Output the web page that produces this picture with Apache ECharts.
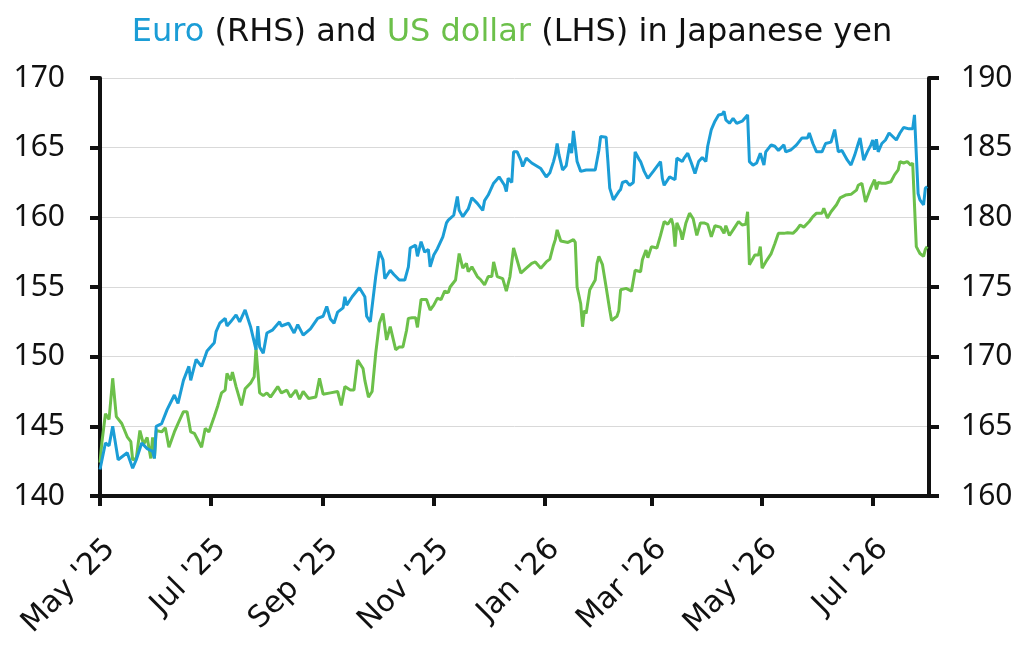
<!DOCTYPE html>
<html>
<head>
<meta charset="utf-8">
<script src="https://cdn.jsdelivr.net/npm/echarts@6/dist/echarts.min.js"></script>
<style>
html, body { margin: 0; padding: 0; background: #fff; }
#main { width: 1024px; height: 646px; }
</style>
</head>
<body>
<div id="main"></div>
<script>
// Euro in yen (right axis)
const euroDates = [
  '2025-05-01','2025-05-04','2025-05-06','2025-05-08','2025-05-11','2025-05-16','2025-05-19','2025-05-21','2025-05-24','2025-05-27',
  '2025-05-30','2025-05-31','2025-06-01','2025-06-04','2025-06-07','2025-06-11','2025-06-13','2025-06-16','2025-06-19','2025-06-20',
  '2025-06-23','2025-06-26','2025-06-29','2025-07-03','2025-07-04','2025-07-06','2025-07-09','2025-07-10','2025-07-12','2025-07-15',
  '2025-07-17','2025-07-20','2025-07-23','2025-07-26','2025-07-27','2025-07-28','2025-07-30','2025-08-01','2025-08-04','2025-08-08',
  '2025-08-09','2025-08-13','2025-08-16','2025-08-18','2025-08-21','2025-08-25','2025-08-29','2025-09-01','2025-09-03','2025-09-05',
  '2025-09-07','2025-09-09','2025-09-12','2025-09-13','2025-09-14','2025-09-17','2025-09-21','2025-09-24','2025-09-25','2025-09-27',
  '2025-09-30','2025-10-02','2025-10-04','2025-10-05','2025-10-08','2025-10-10','2025-10-13','2025-10-16','2025-10-18','2025-10-19',
  '2025-10-22','2025-10-23','2025-10-25','2025-10-27','2025-10-29','2025-10-30','2025-11-01','2025-11-03','2025-11-06','2025-11-08',
  '2025-11-09','2025-11-12','2025-11-14','2025-11-15','2025-11-17','2025-11-20','2025-11-22','2025-11-25','2025-11-28','2025-11-29',
  '2025-12-01','2025-12-04','2025-12-07','2025-12-10','2025-12-11','2025-12-12','2025-12-14','2025-12-15','2025-12-17','2025-12-19',
  '2025-12-20','2025-12-22','2025-12-25','2025-12-26','2025-12-30','2026-01-02','2026-01-04','2026-01-06','2026-01-07','2026-01-08',
  '2026-01-09','2026-01-11','2026-01-13','2026-01-15','2026-01-16','2026-01-17','2026-01-19','2026-01-21','2026-01-24','2026-01-29',
  '2026-01-31','2026-02-01','2026-02-04','2026-02-05','2026-02-06','2026-02-08','2026-02-11','2026-02-12','2026-02-13','2026-02-15',
  '2026-02-17','2026-02-19','2026-02-20','2026-02-22','2026-02-23','2026-02-25','2026-02-27','2026-03-02','2026-03-06','2026-03-07',
  '2026-03-08','2026-03-11','2026-03-14','2026-03-15','2026-03-18','2026-03-19','2026-03-21','2026-03-23','2026-03-25','2026-03-27',
  '2026-03-29','2026-03-31','2026-04-01','2026-04-03','2026-04-05','2026-04-07','2026-04-09','2026-04-10','2026-04-11','2026-04-13',
  '2026-04-15','2026-04-17','2026-04-20','2026-04-21','2026-04-23','2026-04-24','2026-04-26','2026-04-28','2026-04-29','2026-04-30',
  '2026-05-02','2026-05-03','2026-05-06','2026-05-08','2026-05-10','2026-05-13','2026-05-14','2026-05-17','2026-05-20','2026-05-23',
  '2026-05-26','2026-05-27','2026-05-29','2026-05-31','2026-06-03','2026-06-05','2026-06-08','2026-06-10','2026-06-12','2026-06-14',
  '2026-06-17','2026-06-19','2026-06-21','2026-06-23','2026-06-24','2026-06-26','2026-06-28','2026-06-30','2026-07-01','2026-07-02',
  '2026-07-03','2026-07-04','2026-07-06','2026-07-08','2026-07-10','2026-07-12','2026-07-14','2026-07-16','2026-07-18','2026-07-21',
  '2026-07-23','2026-07-24','2026-07-26','2026-07-27','2026-07-29','2026-07-30','2026-07-31'
];
const euroValues = [
  161.9,163.8,163.6,165.0,162.6,163.1,162.0,162.6,163.8,163.4,
  163.2,162.7,165.0,165.2,166.2,167.25,166.65,168.3,169.3,168.3,
  169.8,169.3,170.4,171.0,171.8,172.4,172.75,172.2,172.5,173.0,
  172.5,173.35,172.15,170.5,172.2,170.7,170.25,171.7,171.9,172.5,
  172.2,172.4,171.7,172.3,171.55,172.0,172.75,172.9,173.6,172.7,
  172.4,173.2,173.5,174.3,173.7,174.3,174.95,174.3,172.9,172.5,
  175.75,177.55,176.95,175.6,176.2,175.9,175.5,175.5,176.45,177.8,
  178.0,177.2,178.25,177.5,177.7,176.45,177.3,177.75,178.6,179.6,
  179.8,180.15,181.5,180.5,180.05,180.6,181.4,181.0,180.5,181.2,
  181.6,182.45,182.9,182.3,181.85,182.8,182.5,184.7,184.7,184.1,
  183.65,184.25,183.9,184.0,183.5,182.9,183.2,184.0,184.5,185.3,
  184.5,183.4,183.7,185.3,184.6,186.2,184.0,183.3,183.4,183.4,
  184.8,185.8,185.75,184.0,182.1,181.25,181.85,182.0,182.5,182.6,
  182.3,182.5,184.7,184.2,184.0,183.3,182.8,183.3,184.0,182.8,
  182.3,182.9,182.7,184.25,184.0,184.25,184.6,183.9,183.15,184.0,
  184.3,184.0,185.1,186.3,186.9,187.35,187.4,187.6,187.0,186.75,
  187.1,186.75,186.9,186.95,187.35,184.0,183.75,183.9,183.8,184.6,
  183.75,184.7,185.2,185.1,184.8,185.2,184.7,184.85,185.2,185.7,
  185.7,186.05,185.3,184.7,184.7,185.3,185.4,186.3,184.7,184.8,
  184.1,183.75,184.45,185.3,185.7,184.1,184.7,185.2,185.55,184.85,
  185.6,184.7,185.3,185.55,186.05,185.8,185.55,186.05,186.45,186.35,
  186.35,187.35,181.7,181.25,180.9,182.1,182.2
];

// US dollar in yen (left axis)
const usdDates = [
  '2025-05-01','2025-05-02','2025-05-04','2025-05-06','2025-05-08','2025-05-10','2025-05-13','2025-05-16','2025-05-18','2025-05-19',
  '2025-05-21','2025-05-23','2025-05-25','2025-05-27','2025-05-29','2025-05-30','2025-05-31','2025-06-01','2025-06-04','2025-06-06',
  '2025-06-08','2025-06-11','2025-06-13','2025-06-16','2025-06-18','2025-06-20','2025-06-22','2025-06-23','2025-06-26','2025-06-28',
  '2025-06-30','2025-07-03','2025-07-05','2025-07-07','2025-07-09','2025-07-10','2025-07-12','2025-07-13','2025-07-15','2025-07-18',
  '2025-07-20','2025-07-23','2025-07-25','2025-07-26','2025-07-28','2025-07-30','2025-08-01','2025-08-03','2025-08-07','2025-08-09',
  '2025-08-12','2025-08-14','2025-08-17','2025-08-19','2025-08-21','2025-08-24','2025-08-28','2025-08-30','2025-09-01','2025-09-05',
  '2025-09-09','2025-09-11','2025-09-13','2025-09-16','2025-09-18','2025-09-20','2025-09-23','2025-09-24','2025-09-26','2025-09-28',
  '2025-09-30','2025-10-02','2025-10-04','2025-10-06','2025-10-08','2025-10-11','2025-10-13','2025-10-15','2025-10-17','2025-10-18',
  '2025-10-20','2025-10-22','2025-10-23','2025-10-25','2025-10-28','2025-10-29','2025-10-30','2025-11-01','2025-11-03','2025-11-05',
  '2025-11-07','2025-11-09','2025-11-10','2025-11-13','2025-11-15','2025-11-17','2025-11-19','2025-11-20','2025-11-22','2025-11-25',
  '2025-11-27','2025-11-29','2025-12-01','2025-12-03','2025-12-04','2025-12-06','2025-12-09','2025-12-11','2025-12-13','2025-12-15',
  '2025-12-16','2025-12-19','2025-12-22','2025-12-25','2025-12-27','2025-12-30','2026-01-02','2026-01-04','2026-01-06','2026-01-07',
  '2026-01-08','2026-01-10','2026-01-14','2026-01-17','2026-01-18','2026-01-19','2026-01-21','2026-01-22','2026-01-23','2026-01-24',
  '2026-01-26','2026-01-29','2026-01-30','2026-01-31','2026-02-02','2026-02-04','2026-02-06','2026-02-07','2026-02-10','2026-02-11',
  '2026-02-12','2026-02-15','2026-02-18','2026-02-20','2026-02-23','2026-02-24','2026-02-26','2026-02-27','2026-03-01','2026-03-04',
  '2026-03-06','2026-03-08','2026-03-10','2026-03-12','2026-03-13','2026-03-14','2026-03-15','2026-03-17','2026-03-18','2026-03-20',
  '2026-03-22','2026-03-24','2026-03-26','2026-03-28','2026-03-30','2026-04-01','2026-04-03','2026-04-05','2026-04-08','2026-04-10',
  '2026-04-11','2026-04-13','2026-04-16','2026-04-18','2026-04-20','2026-04-21','2026-04-22','2026-04-23','2026-04-24','2026-04-27',
  '2026-04-29','2026-04-30','2026-05-01','2026-05-03','2026-05-06','2026-05-08','2026-05-10','2026-05-13','2026-05-15','2026-05-16',
  '2026-05-18','2026-05-20','2026-05-22','2026-05-24','2026-05-27','2026-05-29','2026-05-31','2026-06-03','2026-06-04','2026-06-06',
  '2026-06-08','2026-06-11','2026-06-13','2026-06-16','2026-06-19','2026-06-22','2026-06-23','2026-06-25','2026-06-27','2026-06-29',
  '2026-06-30','2026-07-02','2026-07-03','2026-07-04','2026-07-06','2026-07-08','2026-07-11','2026-07-13','2026-07-15','2026-07-16',
  '2026-07-18','2026-07-20','2026-07-22','2026-07-23','2026-07-24','2026-07-25','2026-07-26','2026-07-27','2026-07-29','2026-07-30',
  '2026-07-31'
];
const usdValues = [
  142.4,143.8,145.9,145.5,148.45,145.7,145.2,144.25,143.9,142.6,
  142.7,144.7,143.7,144.2,142.7,144.2,142.7,144.7,144.6,144.9,
  143.5,144.6,145.2,146.05,146.05,144.6,144.5,144.25,143.5,144.85,
  144.6,145.7,146.5,147.4,147.6,148.8,148.3,148.9,147.85,146.5,
  147.7,148.1,148.55,150.6,147.4,147.2,147.4,147.1,147.85,147.4,
  147.6,147.1,147.6,146.95,147.5,147.0,147.1,148.45,147.3,147.4,
  147.5,146.5,147.85,147.6,147.6,149.75,149.15,148.3,147.1,147.5,
  150.25,152.4,153.1,151.2,152.15,150.5,150.7,150.7,151.9,152.75,
  152.8,152.8,152.1,154.1,154.1,154.2,153.35,153.7,154.2,154.1,
  154.7,154.6,155.0,155.5,157.4,156.35,156.7,156.1,156.45,155.75,
  155.5,155.15,155.75,155.75,156.8,155.75,155.6,154.7,155.75,157.8,
  157.35,156.0,156.35,156.7,156.8,156.35,156.8,157.0,158.0,158.4,
  159.1,158.3,158.2,158.4,158.2,155.0,153.8,152.15,153.3,153.1,
  154.8,155.5,156.7,157.2,156.6,155.0,153.35,152.6,152.9,153.3,
  154.8,154.9,154.7,156.2,156.1,156.95,157.65,157.1,157.9,157.8,
  158.7,159.7,159.5,159.9,159.4,157.9,159.6,159.0,158.4,159.6,
  160.3,159.9,158.7,159.6,159.6,159.5,158.6,159.4,159.3,158.85,
  159.4,158.7,159.3,159.7,159.45,159.45,159.5,160.4,156.6,157.3,
  157.3,157.9,156.35,156.8,157.4,158.1,158.85,158.85,158.9,159.0,
  158.85,159.1,159.45,159.3,159.7,160.05,160.3,160.3,160.65,159.95,
  160.4,160.9,161.4,161.6,161.65,161.95,162.3,162.45,161.1,161.8,
  162.15,162.7,162.0,162.5,162.45,162.45,162.55,163.05,163.4,164.0,
  163.9,164.0,163.75,163.9,163.85,157.9,157.65,157.4,157.2,157.7,
  157.9
];

const tickDates = ['2025-05-01', '2025-07-01', '2025-09-01', '2025-11-01', '2026-01-01', '2026-03-01', '2026-05-01', '2026-07-01'];
const tickLabels = ["May '25", "Jul '25", "Sep '25", "Nov '25", "Jan '26", "Mar '26", "May '26", "Jul '26"];
const axisStart = '2025-05-01';
const axisEnd = '2026-08-01';

const BLUE = '#1b9dd6';
const GREEN = '#6cc04a';
const INK = '#111';
const FONT = '"Noto Sans", "DejaVu Sans", sans-serif';
const WIDE_FONT = '"DejaVu Sans", "Noto Sans", sans-serif';

// dates -> timestamps, x axis is a plain value axis in ms
const toTime = d => echarts.time.parse(d).getTime();
const tickTimes = tickDates.map(toTime);
const labelByTime = {};
tickTimes.forEach((t, i) => { labelByTime[t] = tickLabels[i]; });

const myChart = echarts.init(document.getElementById('main'));
const option = {
    animation: false,
    backgroundColor: '#fff',
    title: {
        text: '{b|Euro} (RHS) and {g|US dollar} (LHS) in Japanese yen',
        left: 'center',
        top: 12,
        textStyle: {
            fontFamily: WIDE_FONT,
            fontSize: 32,
            fontWeight: 'normal',
            color: INK,
            rich: {
                b: { color: BLUE, fontSize: 32, fontFamily: WIDE_FONT },
                g: { color: GREEN, fontSize: 32, fontFamily: WIDE_FONT }
            }
        }
    },
    grid: { left: 100, right: 95, top: 78, bottom: 150, containLabel: false },
    xAxis: {
        type: 'value',
        min: toTime(axisStart),
        max: toTime(axisEnd),
        axisLine: { lineStyle: { color: INK, width: 4 } },
        axisTick: { show: true, customValues: tickTimes, length: 10, lineStyle: { color: INK, width: 4 } },
        axisLabel: {
            customValues: tickTimes,
            rotate: 45,
            margin: 38,
            verticalAlign: 'top',
            fontFamily: WIDE_FONT,
            fontSize: 30,
            color: INK,
            formatter: v => labelByTime[v] || ''
        },
        splitLine: { show: false }
    },
    yAxis: [
        {
            type: 'value',
            min: 140,
            max: 170,
            interval: 5,
            position: 'left',
            axisLine: { show: true, lineStyle: { color: INK, width: 4 } },
            axisTick: { show: true, length: 10, lineStyle: { color: INK, width: 4 } },
            axisLabel: { margin: 35, fontFamily: FONT, fontSize: 30, color: INK },
            splitLine: { show: true, lineStyle: { color: '#d9d9d9', width: 1 } }
        },
        {
            type: 'value',
            min: 160,
            max: 190,
            interval: 5,
            position: 'right',
            axisLine: { show: true, lineStyle: { color: INK, width: 4 } },
            axisTick: { show: true, length: 10, lineStyle: { color: INK, width: 4 } },
            axisLabel: { margin: 32, fontFamily: FONT, fontSize: 30, color: INK },
            splitLine: { show: false }
        }
    ],
    series: [
        {
            name: 'US dollar (LHS)',
            type: 'line',
            yAxisIndex: 0,
            showSymbol: false,
            symbol: 'none',
            lineStyle: { color: GREEN, width: 3 },
            data: usdDates.map((d, i) => [toTime(d), usdValues[i]])
        },
        {
            name: 'Euro (RHS)',
            type: 'line',
            yAxisIndex: 1,
            showSymbol: false,
            symbol: 'none',
            lineStyle: { color: BLUE, width: 3 },
            data: euroDates.map((d, i) => [toTime(d), euroValues[i]])
        }
    ]
};
myChart.setOption(option);
</script>
</body>
</html>
